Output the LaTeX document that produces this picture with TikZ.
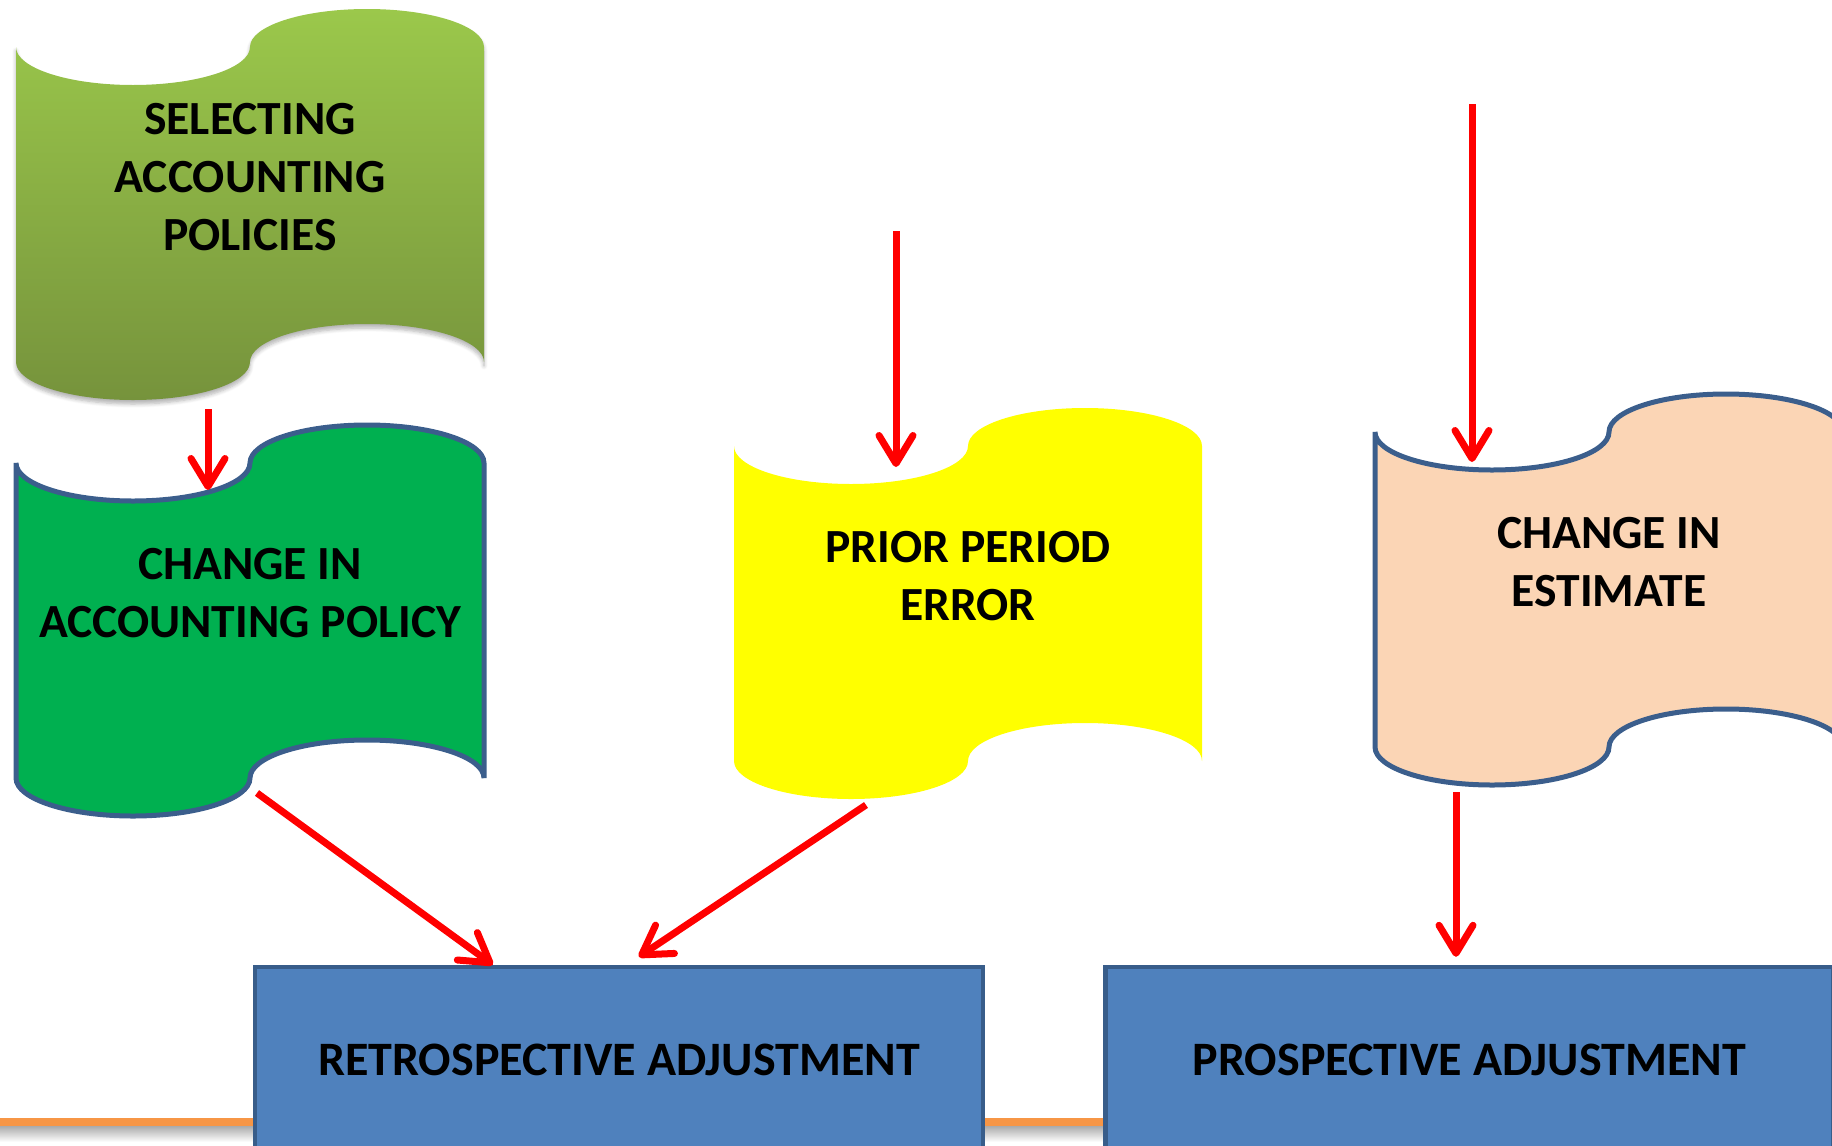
\documentclass[tikz,border=0pt]{standalone}
\usepackage{fontspec}
\setmainfont{Carlito}
\usetikzlibrary{arrows.meta, positioning, calc, shadows.blur}
\definecolor{leafgreen}{HTML}{9BC84B}
\definecolor{olivegreen}{HTML}{76933C}
\definecolor{policygreen}{HTML}{00B050}
\definecolor{errorfill}{HTML}{FFFF00}
\definecolor{peach}{HTML}{FBD5B5}
\definecolor{edgeblue}{HTML}{3B5E8C}
\definecolor{boxblue}{HTML}{4F81BD}
\definecolor{boxedge}{HTML}{385D8A}
\definecolor{rulerorange}{HTML}{F79646}

% banner shape: corner at the pic origin, 469 wide, 315 high
\tikzset{
    pics/wave/.style 2 args={code={
        \path[#1] (0,0)
            arc[start angle=180, end angle=0, x radius=117, y radius=38]
            arc[start angle=180, end angle=360, x radius=117, y radius=38]
            -- ++(0,315)
            arc[start angle=0, end angle=-180, x radius=117, y radius=38]
            arc[start angle=0, end angle=180, x radius=117, y radius=38]
            -- cycle;
        \coordinate (-nw) at (0,0);
        \coordinate (-sw) at (0,315);
        \node[wave_text] (-txt) at (234,130) {#2};
    }}
}

\begin{document}
\begin{tikzpicture}[
        x=0.5pt, y=-0.5pt,
        wave_text/.style={
            align=center,
            font=\bfseries\fontsize{23.8pt}{29pt}\selectfont
        },
        sel_wave/.style={
            top color=leafgreen,
            bottom color=olivegreen,
            blur shadow={shadow blur steps=6, shadow xshift=0pt, shadow yshift=-2pt, shadow opacity=30}
        },
        policy_wave/.style={fill=policygreen, draw=edgeblue, line width=2.5pt},
        error_wave/.style={fill=errorfill},
        estimate_wave/.style={fill=peach, draw=edgeblue, line width=2.5pt},
        adj_box/.style={
            rectangle,
            draw=boxedge,
            fill=boxblue,
            line width=2.2pt,
            minimum width=364pt,
            minimum height=93pt,
            font=\bfseries\fontsize{24pt}{28pt}\selectfont
        },
        red_arrow/.style={
            -{Straight Barb[length=14pt, width=17pt, round]},
            draw=red,
            line width=3.5pt
        }
    ]
    \useasboundingbox (0,0) rectangle (1832,1146);

    % Orange rule with its shadow
    \shade[top color=black!35, bottom color=white] (0,1125) rectangle (1832,1142);
    \draw[rulerorange, line width=4pt] (0,1122) -- (1832,1122);

    % Banners
    \pic (sel) at (16,47) {wave={sel_wave}{SELECTING\\ACCOUNTING\\POLICIES}};
    \pic (chpol) at (16,463) {wave={policy_wave}{CHANGE IN\\ACCOUNTING POLICY}};
    \pic (prior) at (734,446) {wave={error_wave}{PRIOR PERIOD\\ERROR}};
    \pic (chest) at (1375,432) {wave={estimate_wave}{CHANGE IN\\ESTIMATE}};

    % Adjustments
    \node[adj_box] (retro) at (619,1060) {RETROSPECTIVE ADJUSTMENT};
    \node[adj_box, right=59pt of retro] (prosp) {PROSPECTIVE ADJUSTMENT};

    % Free starts of the upper arrows
    \coordinate (errsrc) at (896,231);
    \coordinate (estsrc) at (1472,104);
    \coordinate (estout) at ($(chest-sw)+(81,45)$);

    % Connecting Arrows
    \draw[red_arrow] ($(sel-sw)+(192,47)$) -- ($(chpol-nw)+(192,27)$);
    \draw[red_arrow] (errsrc) -- ($(prior-nw)+(162,21)$);
    \draw[red_arrow] (estsrc) -- ($(chest-nw)+(97,30)$);
    \draw[red_arrow] ($(chpol-sw)+(241,15)$) -- ($(retro.north west)+(240,0)$);
    \draw[red_arrow] ($(prior-sw)+(132,44)$) -- ($(retro.north west)+(386,-8)$);
    \draw[red_arrow] (estout) -- ([yshift=4pt]estout |- prosp.north);

\end{tikzpicture}
\end{document}
